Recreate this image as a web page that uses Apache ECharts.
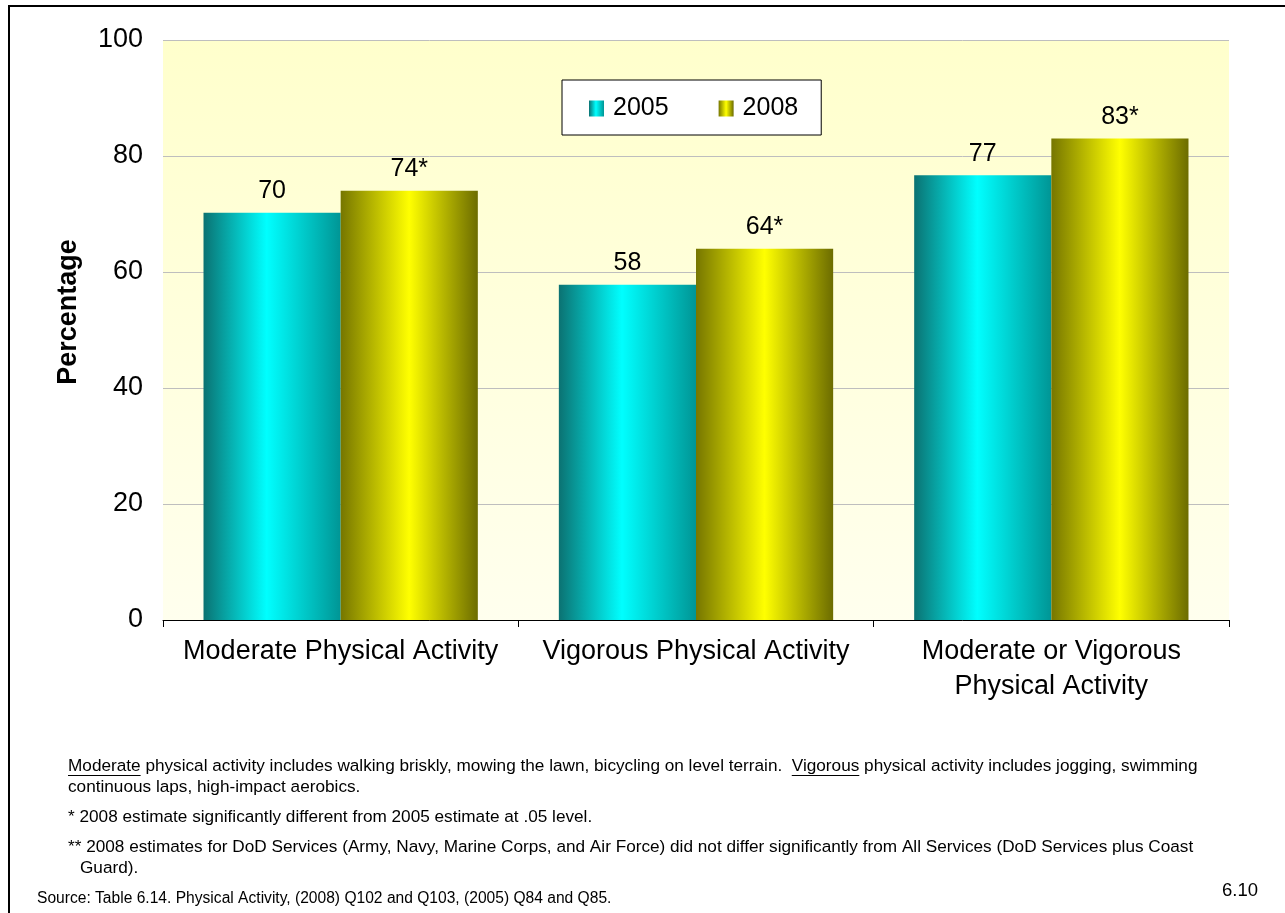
<!DOCTYPE html>
<html>
<head>
<meta charset="utf-8">
<script src="https://cdn.jsdelivr.net/npm/echarts@6/dist/echarts.min.js"></script>
<style>
html,body{margin:0;padding:0;background:#fff;}
#chart{width:1285px;height:913px;}
</style>
</head>
<body>
<div id="chart"></div>
<script>
// ---- data ----
const categories = ['Moderate Physical Activity', 'Vigorous Physical Activity', 'Moderate or Vigorous\nPhysical Activity'];
const seriesNames = ['2005', '2008'];
const values2005 = [70.2, 57.8, 76.7];
const values2008 = [74, 64, 83];
const labels2005 = ['70', '58', '77'];
const labels2008 = ['74*', '64*', '83*'];
const yMin = 0, yMax = 100, yInterval = 20;
const yAxisTitle = 'Percentage';
const footLine1a = 'Moderate';
const footLine1b = ' physical activity includes walking briskly, mowing the lawn, bicycling on level terrain.  ';
const footLine1c = 'Vigorous';
const footLine1d = ' physical activity includes jogging, swimming';
const footLine2 = 'continuous laps, high-impact aerobics.';
const footLine3 = '* 2008 estimate significantly different from 2005 estimate at .05 level.';
const footLine4 = '** 2008 estimates for DoD Services (Army, Navy, Marine Corps, and Air Force) did not differ significantly from All Services (DoD Services plus Coast';
const footLine5 = 'Guard).';
const sourceText = 'Source: Table 6.14. Physical Activity, (2008) Q102 and Q103, (2005) Q84 and Q85.';
const pageNum = '6.10';

const FONT = '"Liberation Sans", Arial, Helvetica, sans-serif';
const footSize = 17.2;

const ctx = document.createElement('canvas').getContext('2d');
ctx.font = footSize + 'px "Liberation Sans"';
const wA = ctx.measureText(footLine1a).width;
const wAB = ctx.measureText(footLine1a + footLine1b).width;
const wC = ctx.measureText(footLine1c).width;

const footX = 68;
const y1 = 766;
const uy = 775.5;

function grad(stops) {
  return new echarts.graphic.LinearGradient(0, 0, 1, 0, stops.map((c) => ({offset: c[0], color: c[1]})));
}
const grad2005 = grad([[0, '#0B7272'], [0.46, '#00FFFF'], [1, '#009595']]);
const grad2008 = grad([[0, '#767600'], [0.5, '#FFFF00'], [1, '#6C6C00']]);

const chart = echarts.init(document.getElementById('chart'), null, {renderer: 'canvas'});

function txt(x, y, text, size, extra) {
  return Object.assign({
    type: 'text', x: x, y: y,
    style: {text: text, font: size + 'px ' + FONT, fill: '#000', textAlign: 'left', textVerticalAlign: 'middle'}
  }, extra || {});
}

chart.setOption({
  animation: false,
  backgroundColor: '#fff',
  grid: {
    left: 163, right: 56, top: 40, bottom: 293,
    show: true, borderWidth: 0,
    backgroundColor: new echarts.graphic.LinearGradient(0, 0, 0, 1, [
      {offset: 0, color: '#FFFFCC'}, {offset: 1, color: '#FFFFEE'}
    ])
  },
  legend: {
    data: seriesNames,
    left: 562, top: 80,
    orient: 'horizontal',
    backgroundColor: '#fff',
    borderColor: '#000', borderWidth: 1,
    padding: [16, 23, 14, 27],
    itemWidth: 15, itemHeight: 16, itemGap: 50,
    icon: 'rect',
    textStyle: {fontSize: 25, fontFamily: FONT, color: '#000', padding: [0, 0, 0, 4]}
  },
  xAxis: {
    type: 'category',
    data: categories,
    axisLine: {show: true, lineStyle: {color: '#000', width: 1}},
    axisTick: {show: true, length: 7, interval: 0, lineStyle: {color: '#000'}},
    axisLabel: {interval: 0, fontSize: 27, lineHeight: 35, margin: 14, color: '#000', fontFamily: FONT}
  },
  yAxis: {
    type: 'value',
    min: yMin, max: yMax, interval: yInterval,
    axisLine: {show: false},
    axisTick: {show: false},
    axisLabel: {fontSize: 27, color: '#000', margin: 20, fontFamily: FONT, padding: [5, 0, 0, 0]},
    splitLine: {show: true, lineStyle: {color: '#BEBEBE', width: 1}}
  },
  series: [
    {
      name: seriesNames[0], type: 'bar', data: values2005,
      barGap: '0%', barCategoryGap: '22.8%',
      itemStyle: {color: grad2005},
      label: {show: true, position: 'top', distance: 9, fontSize: 25, color: '#000', fontFamily: FONT,
        formatter: p => labels2005[p.dataIndex]}
    },
    {
      name: seriesNames[1], type: 'bar', data: values2008,
      barGap: '0%', barCategoryGap: '22.8%',
      itemStyle: {color: grad2008},
      label: {show: true, position: 'top', distance: 9, fontSize: 25, color: '#000', fontFamily: FONT,
        formatter: p => labels2008[p.dataIndex]}
    }
  ],
  graphic: [
    {type: 'rect', shape: {x: 9, y: 6, width: 1400, height: 1000}, style: {fill: 'none', stroke: '#000', lineWidth: 2}, silent: true},
    {type: 'text', x: 69, y: 312, rotation: Math.PI / 2,
      style: {text: yAxisTitle, font: 'bold 27px ' + FONT, fill: '#000', textAlign: 'center', textVerticalAlign: 'middle'}},
    txt(footX, y1, footLine1a + footLine1b + footLine1c + footLine1d, footSize),
    {type: 'line', shape: {x1: footX, y1: uy, x2: footX + wA, y2: uy}, style: {stroke: '#000', lineWidth: 1}},
    {type: 'line', shape: {x1: footX + wAB, y1: uy, x2: footX + wAB + wC, y2: uy}, style: {stroke: '#000', lineWidth: 1}},
    txt(footX, 787, footLine2, footSize),
    txt(footX, 817, footLine3, footSize),
    txt(footX, 847, footLine4, footSize),
    txt(80, 868, footLine5, footSize),
    txt(37, 899, sourceText, 15.6),
    txt(1222, 891, pageNum, 18.5)
  ]
});
</script>
</body>
</html>
